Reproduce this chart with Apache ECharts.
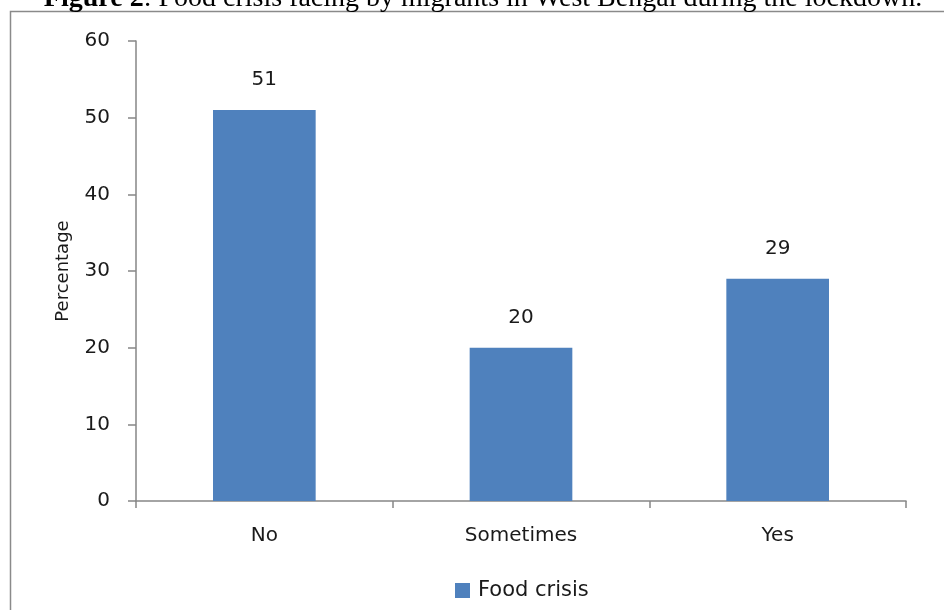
<!DOCTYPE html>
<html>
<head>
<meta charset="utf-8">
<script src="https://cdn.jsdelivr.net/npm/echarts@6/dist/echarts.min.js"></script>
<style>
  html, body { margin: 0; padding: 0; background: #ffffff; }
  #chart { width: 944px; height: 610px; }
</style>
</head>
<body>
<div id="chart"></div>
<script>
// Responses to the food-crisis question (percentage of migrants)
const categories = ['No', 'Sometimes', 'Yes'];
const foodCrisis = [51, 20, 29];
const yTicks = { min: 0, max: 60, interval: 10 };
const seriesName = 'Food crisis';
const figureLabel = 'Figure 2';
const figureCaption = ': Food crisis facing by migrants in West Bengal during the lockdown.';

const axisGray = '#868686';
const textColor = '#1a1a1a';
const sans = 'DejaVu Sans';

const chart = echarts.init(document.getElementById('chart'), null, { renderer: 'canvas' });

chart.setOption({
  backgroundColor: '#ffffff',
  animation: false,
  graphic: [
    {
      type: 'rect',
      shape: { x: 10.5, y: 11.5, width: 1000, height: 700 },
      style: { fill: 'none', stroke: '#8a8a8a', lineWidth: 1.5 },
      z: 1
    },
    {
      type: 'text',
      x: 483,
      y: -1,
      style: {
        text: '{b|' + figureLabel + '}{r|' + figureCaption + '}',
        align: 'center',
        verticalAlign: 'middle',
        rich: {
          b: { fontFamily: 'Liberation Serif', fontSize: 28, fontWeight: 'bold', fill: '#000' },
          r: { fontFamily: 'Liberation Serif', fontSize: 28, fill: '#000' }
        }
      },
      z: 2
    }
  ],
  grid: { left: 136, right: 38, top: 41, bottom: 109 },
  legend: {
    data: [seriesName],
    bottom: 4,
    left: 450,
    icon: 'rect',
    itemWidth: 15,
    itemHeight: 15,
    itemGap: 8,
    textStyle: { fontFamily: sans, fontSize: 21, color: textColor, padding: [0, 0, 0, 3] }
  },
  xAxis: {
    type: 'category',
    data: categories,
    axisLine: { lineStyle: { color: axisGray, width: 1.5 } },
    axisTick: { show: true, length: 7, lineStyle: { color: axisGray, width: 1.5 } },
    axisLabel: { fontFamily: sans, fontSize: 20, color: textColor, margin: 25 },
    splitLine: { show: false }
  },
  yAxis: {
    type: 'value',
    min: yTicks.min,
    max: yTicks.max,
    interval: yTicks.interval,
    name: 'Percentage',
    nameLocation: 'middle',
    nameGap: 64,
    nameRotate: 90,
    nameTextStyle: { fontFamily: sans, fontSize: 18, color: textColor },
    axisLine: { show: true, lineStyle: { color: axisGray, width: 1.5 } },
    axisTick: { show: true, length: 8, lineStyle: { color: axisGray, width: 1.5 } },
    axisLabel: { fontFamily: sans, fontSize: 20, color: textColor, margin: 26 },
    splitLine: { show: false }
  },
  series: [
    {
      name: seriesName,
      type: 'bar',
      data: foodCrisis,
      barWidth: '40%',
      itemStyle: { color: '#4F81BD' },
      label: {
        show: true,
        position: 'top',
        distance: 20,
        fontFamily: sans,
        fontSize: 20,
        color: textColor
      }
    }
  ]
});
</script>
</body>
</html>
